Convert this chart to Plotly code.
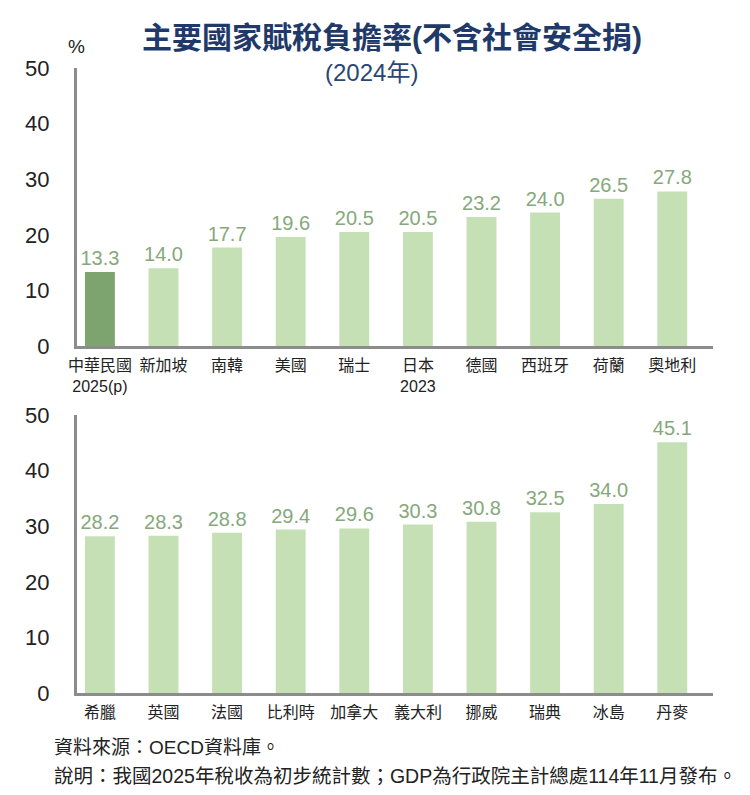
import plotly.graph_objects as go
from plotly.subplots import make_subplots

# 上排
top_countries = ["中華民國<br>2025(p)", "新加坡", "南韓", "美國", "瑞士",
                 "日本<br>2023", "德國", "西班牙", "荷蘭", "奧地利"]
top_values = [13.3, 14.0, 17.7, 19.6, 20.5, 20.5, 23.2, 24.0, 26.5, 27.8]

# 下排
bottom_countries = ["希臘", "英國", "法國", "比利時", "加拿大",
                    "義大利", "挪威", "瑞典", "冰島", "丹麥"]
bottom_values = [28.2, 28.3, 28.8, 29.4, 29.6, 30.3, 30.8, 32.5, 34.0, 45.1]

y_ticks = [0, 10, 20, 30, 40, 50]

light = "#c5e0b4"
dark = "#7da36e"
label_color = "#86a87b"
font_family = "Liberation Sans, Arial, Noto Sans CJK TC, sans-serif"

# page body has an 8px margin, so shrink the figure and shift everything
OFF = 8
W, H = 750 - OFF, 795 - OFF


def px(x):
    return (x - OFF) / W


def py(y):
    return 1 - (y - OFF) / H


top_colors = [dark] + [light] * (len(top_values) - 1)

fig = make_subplots(rows=2, cols=1)

fig.add_trace(go.Bar(x=top_countries, y=top_values,
                     marker=dict(color=top_colors, line=dict(width=0)),
                     width=0.47,
                     texttemplate="%{y:.1f}", textposition="outside",
                     constraintext="none",
                     textfont=dict(color=label_color, size=20, family=font_family),
                     cliponaxis=False, showlegend=False), row=1, col=1)

fig.add_trace(go.Bar(x=bottom_countries, y=bottom_values,
                     marker=dict(color=light, line=dict(width=0)),
                     width=0.47,
                     texttemplate="%{y:.1f}", textposition="outside",
                     constraintext="none",
                     textfont=dict(color=label_color, size=20, family=font_family),
                     cliponaxis=False, showlegend=False), row=2, col=1)

axis_x = dict(showline=True, linecolor="#8c8c8c", linewidth=3, ticks="",
              showgrid=False, range=[-0.36, 9.64], domain=[px(77), px(713)],
              automargin=False, ticklabelstandoff=3,
              tickfont=dict(size=16, color="#222", family=font_family))
axis_y = dict(showline=True, linecolor="#8c8c8c", linewidth=3, ticks="",
              showgrid=False, zeroline=False, range=[0, 50], tickvals=y_ticks,
              automargin=False, ticklabelstandoff=20,
              tickfont=dict(size=22, color="#222", family=font_family))

fig.update_layout(
    xaxis=axis_x, xaxis2=axis_x,
    yaxis=dict(axis_y, domain=[py(346), py(68)]),
    yaxis2=dict(axis_y, domain=[py(693), py(415)]),
    width=W, height=H,
    margin=dict(l=0, r=0, t=0, b=0),
    plot_bgcolor="white", paper_bgcolor="white",
    font=dict(family=font_family),
    bargap=0.5,
)

fig.add_annotation(text="<b>主要國家賦稅負擔率(不含社會安全捐)</b>", xref="paper", yref="paper",
                   x=px(392), y=py(37), yanchor="middle", showarrow=False,
                   font=dict(size=30, color="#1f3a68", family=font_family))
fig.add_annotation(text="(2024年)", xref="paper", yref="paper",
                   x=px(371), y=py(73), yanchor="middle", showarrow=False,
                   font=dict(size=24, color="#2b4673", family=font_family))
fig.add_annotation(text="%", xref="paper", yref="paper",
                   x=px(66), y=py(46), yanchor="middle", showarrow=False,
                   font=dict(size=19, color="#222", family=font_family))
fig.add_annotation(text="資料來源：OECD資料庫。", xref="paper", yref="paper",
                   x=px(52), y=py(747), xanchor="left", yanchor="middle", showarrow=False,
                   font=dict(size=19, color="#222", family=font_family))
fig.add_annotation(text="說明：我國2025年稅收為初步統計數；GDP為行政院主計總處114年11月發布。",
                   xref="paper", yref="paper",
                   x=px(52), y=py(776), xanchor="left", yanchor="middle", showarrow=False,
                   font=dict(size=19.5, color="#222", family=font_family))

fig.write_html("out.html")
